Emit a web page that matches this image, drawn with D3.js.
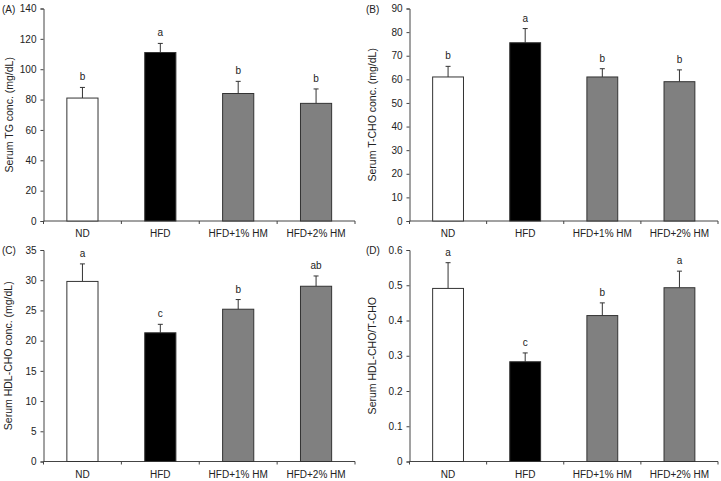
<!DOCTYPE html>
<html>
<head>
<meta charset="utf-8">
<script src="https://cdn.jsdelivr.net/npm/d3@7"></script>
<style>
  body { margin: 0; background: #fff; }
  text { font-family: "Liberation Sans", Arial, sans-serif; fill: #222; }
</style>
</head>
<body>
<svg id="chart" width="721" height="481"></svg>
<script>
// Groups
const groups = ["ND", "HFD", "HFD+1% HM", "HFD+2% HM"];
const fills = ["#ffffff", "#000000", "#808080", "#808080"];

// (A) Serum TG
const tgMean = [81, 111, 84, 77.5];
const tgErr = [7, 6, 8, 9.5];
const tgLetters = ["b", "a", "b", "b"];

// (B) Serum T-CHO
const tchoMean = [61, 75.5, 61, 59];
const tchoErr = [4.5, 6, 3.5, 5];
const tchoLetters = ["b", "a", "b", "b"];

// (C) Serum HDL-CHO
const hdlMean = [29.8, 21.3, 25.2, 29];
const hdlErr = [2.9, 1.4, 1.6, 1.7];
const hdlLetters = ["a", "c", "b", "ab"];

// (D) HDL-CHO / T-CHO ratio
const ratioMean = [0.491, 0.283, 0.414, 0.493];
const ratioErr = [0.073, 0.025, 0.036, 0.047];
const ratioLetters = ["a", "c", "b", "a"];

const svg = d3.select("#chart");

function drawPanel(opt) {
  const g = svg.append("g");

  const x = d3.scaleBand()
    .domain(groups)
    .range([opt.left, opt.right])
    .paddingInner(0.6)
    .paddingOuter(0.3);

  const y = d3.scaleLinear()
    .domain([0, opt.max])
    .range([opt.bottom, opt.top]);

  // y axis
  const yAxis = g.append("g")
    .attr("transform", "translate(" + opt.left + ",0)")
    .call(d3.axisLeft(y).tickValues(d3.range(0, opt.max + opt.step / 2, opt.step))
      .tickSize(3).tickPadding(4).tickFormat(opt.fmt));
  yAxis.select(".domain").attr("stroke", "#444");
  yAxis.selectAll(".tick line").attr("stroke", "#444");
  yAxis.selectAll("text").style("font-size", "10px").attr("fill", "#222");

  // x axis: ticks at band boundaries, downward
  g.append("line")
    .attr("x1", opt.left).attr("x2", opt.right)
    .attr("y1", opt.bottom).attr("y2", opt.bottom)
    .attr("stroke", "#444");
  const bounds = [opt.left].concat(groups.map(d => x(d) + x.bandwidth() + x.step() * 0.3));
  g.selectAll(".xt")
    .data(bounds)
    .enter().append("line")
    .attr("x1", d => d).attr("x2", d => d)
    .attr("y1", opt.bottom).attr("y2", opt.bottom + 3)
    .attr("stroke", "#444");
  g.selectAll(".xl")
    .data(groups)
    .enter().append("text")
    .attr("x", d => x(d) + x.bandwidth() / 2)
    .attr("y", opt.bottom + 16)
    .attr("text-anchor", "middle")
    .style("font-size", "10px")
    .text(d => d);

  const rows = groups.map((d, i) => ({ name: d, m: opt.mean[i], e: opt.err[i], l: opt.letters[i], f: fills[i] }));

  // error bars (behind the bar top)
  g.selectAll(".err")
    .data(rows)
    .enter().append("line")
    .attr("x1", d => x(d.name) + x.bandwidth() / 2)
    .attr("x2", d => x(d.name) + x.bandwidth() / 2)
    .attr("y1", d => y(d.m))
    .attr("y2", d => y(d.m + d.e))
    .attr("stroke", "#333");
  g.selectAll(".cap")
    .data(rows)
    .enter().append("line")
    .attr("x1", d => x(d.name) + x.bandwidth() / 2 - 2.5)
    .attr("x2", d => x(d.name) + x.bandwidth() / 2 + 2.5)
    .attr("y1", d => y(d.m + d.e))
    .attr("y2", d => y(d.m + d.e))
    .attr("stroke", "#333");

  // bars
  g.selectAll(".bar")
    .data(rows)
    .enter().append("rect")
    .attr("x", d => x(d.name))
    .attr("y", d => y(d.m))
    .attr("width", x.bandwidth())
    .attr("height", d => opt.bottom - y(d.m))
    .attr("fill", d => d.f)
    .attr("stroke", "#333")
    .attr("stroke-width", 1);

  // significance letters
  g.selectAll(".let")
    .data(rows)
    .enter().append("text")
    .attr("x", d => x(d.name) + x.bandwidth() / 2)
    .attr("y", d => y(d.m + d.e) - 7)
    .attr("text-anchor", "middle")
    .style("font-size", "10px")
    .text(d => d.l);

  // y label
  g.append("text")
    .attr("transform", "rotate(-90)")
    .attr("x", -(opt.top + opt.bottom) / 2)
    .attr("y", opt.labelX)
    .attr("dy", "0.35em")
    .attr("text-anchor", "middle")
    .style("font-size", "10.5px")
    .text(opt.ylabel);

  // panel tag
  g.append("text")
    .attr("x", opt.tagX)
    .attr("y", opt.top + 4)
    .style("font-size", "10px")
    .text(opt.tag);
}

drawPanel({ tag: "(A)", tagX: 2, left: 43.5, right: 355, top: 8.5, bottom: 221, max: 140, step: 20,
  mean: tgMean, err: tgErr, letters: tgLetters, ylabel: "Serum TG conc. (mg/dL)", labelX: 9, fmt: d3.format("d") });
drawPanel({ tag: "(B)", tagX: 366, left: 409.5, right: 718, top: 8.5, bottom: 221, max: 90, step: 10,
  mean: tchoMean, err: tchoErr, letters: tchoLetters, ylabel: "Serum T-CHO conc. (mg/dL)", labelX: 372, fmt: d3.format("d") });
drawPanel({ tag: "(C)", tagX: 2, left: 43.5, right: 355, top: 250, bottom: 461.5, max: 35, step: 5,
  mean: hdlMean, err: hdlErr, letters: hdlLetters, ylabel: "Serum HDL-CHO conc. (mg/dL)", labelX: 8, fmt: d3.format("d") });
drawPanel({ tag: "(D)", tagX: 366, left: 409.5, right: 718, top: 250, bottom: 461.5, max: 0.6, step: 0.1,
  mean: ratioMean, err: ratioErr, letters: ratioLetters, ylabel: "Serum HDL-CHO/T-CHO", labelX: 372, fmt: d => d === 0 ? "0" : d3.format(".1f")(d) });
</script>
</body>
</html>
